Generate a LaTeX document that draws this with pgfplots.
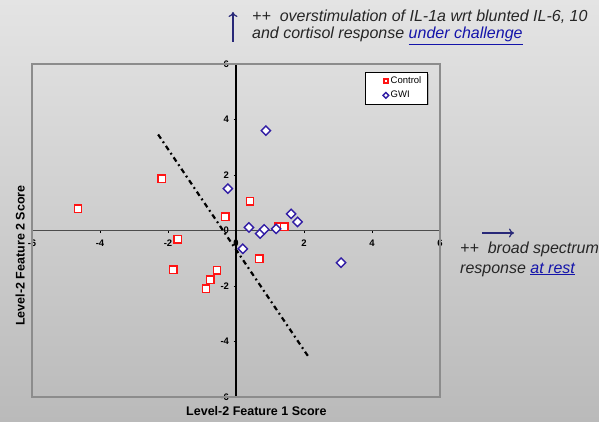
\documentclass[border=0pt]{standalone}
\usepackage{fontspec}
\setmainfont{Liberation Sans}
\usepackage{pgfplots}
\pgfplotsset{compat=1.18}
\usetikzlibrary{arrows.meta,shadows}
\definecolor{bgtop}{RGB}{228,228,228}
\definecolor{bgbot}{RGB}{186,186,186}
\definecolor{ctrlred}{RGB}{255,20,20}
\definecolor{gwiblue}{RGB}{50,30,165}
\definecolor{navy}{RGB}{40,40,120}
\definecolor{linkblue}{RGB}{20,20,170}
\definecolor{framegray}{RGB}{140,140,140}
\begin{document}
\begin{tikzpicture}
\shade[top color=bgtop, bottom color=bgbot] (0pt,0pt) rectangle (599pt,421pt);
\path[use as bounding box] (0pt,0pt) rectangle (599pt,421pt);
\begin{axis}[
  at={(32pt,24pt)}, anchor=south west,
  scale only axis, width=408pt, height=333pt,
  xmin=-6, xmax=6, ymin=-6, ymax=6,
  axis lines=middle,
  axis line style={-},
  x axis line style={black!70, line width=0.8pt},
  y axis line style={black, line width=1.6pt},
  xtick={-6,-4,-2,0,2,4,6},
  ytick={-6,-4,-2,0,2,4,6},
  hide obscured x ticks=false,
  hide obscured y ticks=false,
  tick align=outside,
  major tick length=2.5pt,
  tick style={black, line width=0.8pt},
  /pgf/number format/assume math mode=true,
  tick label style={font=\bfseries\fontsize{9.5}{11}\selectfont},
  xticklabel style={yshift=-3pt},
  yticklabel style={xshift=-1pt},
  xlabel={Level-2 Feature 1 Score},
  ylabel={Level-2 Feature 2 Score},
  xlabel style={font=\bfseries\fontsize{12.5}{14}\selectfont, at={(axis description cs:0.55,-0.042)}, anchor=center},
  ylabel style={font=\bfseries\fontsize{12.5}{14}\selectfont, at={(axis description cs:-0.029,0.425)}, anchor=center, rotate=90},
  legend style={at={(axis description cs:0.97,0.976)}, anchor=north east,
    draw=black, line width=0.8pt, fill=white,
    drop shadow={shadow xshift=1.5pt, shadow yshift=-1.5pt, fill=black!50},
    font=\fontsize{9.5}{11}\selectfont,
    inner xsep=4pt, inner ysep=2.5pt, row sep=2pt},
  legend cell align=left,
  legend image code/.code={\path (0pt,0pt); \draw[#1, mark size=2pt, line width=0.8pt] plot coordinates {(16pt,0pt)};},
  clip=false,
]
\draw[framegray, line width=1.6pt] (rel axis cs:0,0) rectangle (rel axis cs:1,1);
\addplot[only marks, mark=square*, mark size=3.7pt,
  mark options={draw=ctrlred, fill=white, line width=1.4pt}]
  coordinates {
  (-4.65,0.79) (-2.18,1.87) (-0.32,0.50) (0.41,1.05) (1.25,0.14) (1.42,0.14)
  (-1.71,-0.32) (-1.85,-1.41) (-0.56,-1.44) (-0.76,-1.77) (-0.88,-2.09) (0.68,-1.01)
  };
\addlegendentry{Control}
\addplot[only marks, mark=square*, mark size=3.3pt,
  mark options={draw=gwiblue, fill=white, line width=1.4pt, rotate=45}]
  coordinates {
  (0.88,3.60) (-0.24,1.51) (0.38,0.11) (0.71,-0.11) (0.83,0.04) (1.18,0.06)
  (1.62,0.60) (1.81,0.31) (0.20,-0.66) (3.09,-1.16)
  };
\addlegendentry{GWI}
\addplot[black, line width=2.2pt, dash pattern=on 5pt off 3.5pt on 1.8pt off 3.5pt, forget plot]
  coordinates {(-2.29,3.46) (2.12,-4.53)};
\end{axis}
% annotations
\draw[navy, line width=1.2pt, -{To[length=5pt,width=9pt]}] (233pt,379pt) -- (233pt,409pt);
\node[anchor=base west, inner sep=0pt, font=\itshape\fontsize{16}{18}\selectfont, text=black!85]
  at (252pt,399pt) {++\ \ overstimulation of IL-1a wrt blunted IL-6, 10};
\node[anchor=base west, inner sep=0pt, font=\itshape\fontsize{16}{18}\selectfont, text=black!85]
  at (252pt,382pt) {and cortisol response \textcolor{linkblue}{\underline{under challenge}}};
\draw[navy, line width=1.2pt, -{To[length=5pt,width=9pt]}] (482pt,188pt) -- (514pt,188pt);
\node[anchor=base west, inner sep=0pt, font=\itshape\fontsize{16}{18}\selectfont, text=black!85]
  at (460pt,168pt) {++\ \ broad spectrum};
\node[anchor=base west, inner sep=0pt, font=\itshape\fontsize{16}{18}\selectfont, text=black!85]
  at (460pt,148pt) {response \textcolor{linkblue}{\underline{at rest}}};
\end{tikzpicture}
\end{document}
